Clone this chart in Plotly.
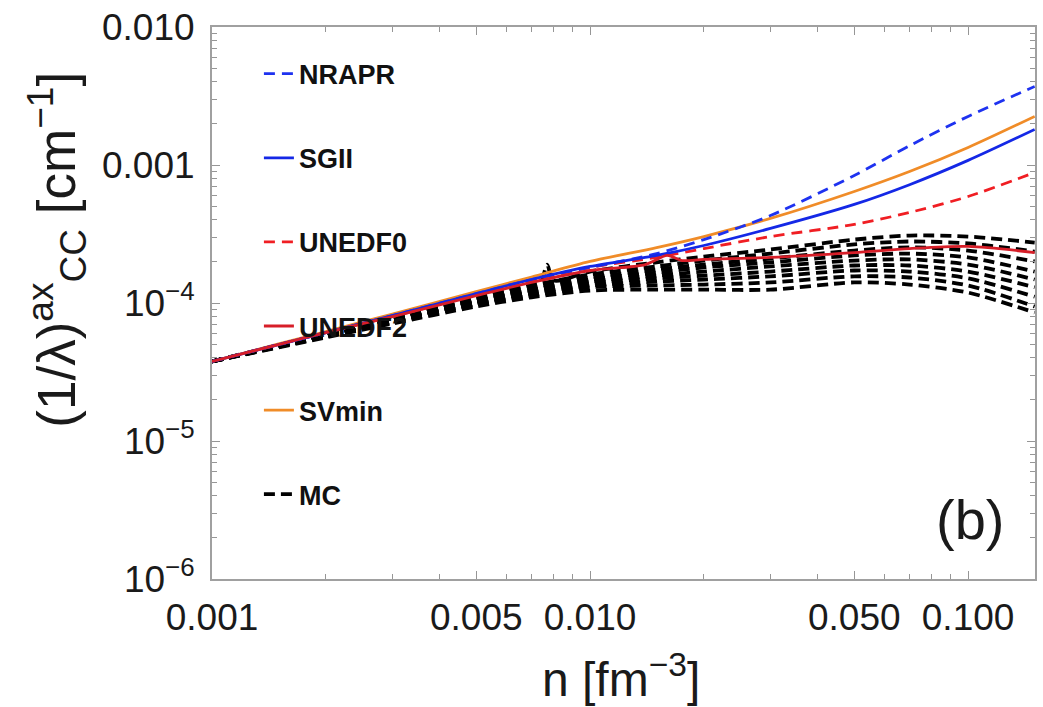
import plotly.graph_objects as go

# ---------------- data ----------------
n_grid = [0.001, 0.0015, 0.002, 0.003, 0.005, 0.007, 0.01, 0.015, 0.02, 0.03, 0.05, 0.07, 0.1, 0.15]

nrapr = [3.77e-5, 5.00e-5, 6.11e-5, 8.11e-5, 1.17e-4, 1.48e-4, 1.81e-4, 2.28e-4, 2.88e-4, 4.30e-4, 8.40e-4, 1.38e-3, 2.25e-3, 3.71e-3]
sgii = [3.77e-5, 5.00e-5, 6.11e-5, 8.11e-5, 1.17e-4, 1.48e-4, 1.84e-4, 2.21e-4, 2.61e-4, 3.47e-4, 5.18e-4, 7.20e-4, 1.08e-3, 1.81e-3]
unedf0 = [3.77e-5, 5.00e-5, 6.11e-5, 7.98e-5, 1.15e-4, 1.46e-4, 1.81e-4, 2.14e-4, 2.48e-4, 3.03e-4, 3.71e-4, 4.53e-4, 5.91e-4, 8.83e-4]
svmin = [3.77e-5, 5.05e-5, 6.21e-5, 8.31e-5, 1.21e-4, 1.54e-4, 2.00e-4, 2.52e-4, 3.03e-4, 4.10e-4, 6.43e-4, 8.97e-4, 1.34e-3, 2.25e-3]

n_unedf2 = [0.001, 0.0015, 0.002, 0.003, 0.005, 0.007, 0.01, 0.014, 0.016, 0.0175, 0.02, 0.03, 0.05, 0.07, 0.1, 0.15]
unedf2 = [3.77e-5, 5.00e-5, 6.11e-5, 7.98e-5, 1.13e-4, 1.41e-4, 1.72e-4, 1.90e-4, 2.21e-4, 2.03e-4, 2.07e-4, 2.14e-4, 2.32e-4, 2.48e-4, 2.57e-4, 2.32e-4]

n_mc = [0.001, 0.002, 0.003, 0.005, 0.007, 0.01, 0.015, 0.02, 0.03, 0.05, 0.07, 0.1, 0.15]
n_mc_glitch = [0.001, 0.002, 0.003, 0.005, 0.007, 0.0074, 0.0077, 0.008, 0.01, 0.015, 0.02, 0.03, 0.05, 0.07, 0.1, 0.15]
mc1 = [3.77e-5, 6.01e-5, 7.98e-5, 1.11e-4, 1.39e-4, 1.41e-4, 1.90e-4, 1.46e-4, 1.69e-4, 1.97e-4, 2.17e-4, 2.44e-4, 2.88e-4, 3.08e-4, 3.03e-4, 2.74e-4]
mc2 = [3.77e-5, 6.01e-5, 7.85e-5, 1.10e-4, 1.34e-4, 1.61e-4, 1.84e-4, 2.03e-4, 2.28e-4, 2.66e-4, 2.79e-4, 2.70e-4, 2.36e-4]
mc3 = [3.77e-5, 5.91e-5, 7.72e-5, 1.06e-4, 1.30e-4, 1.53e-4, 1.75e-4, 1.90e-4, 2.10e-4, 2.40e-4, 2.53e-4, 2.40e-4, 2.00e-4]
mc4 = [3.77e-5, 5.91e-5, 7.59e-5, 1.04e-4, 1.25e-4, 1.48e-4, 1.66e-4, 1.81e-4, 1.97e-4, 2.21e-4, 2.28e-4, 2.14e-4, 1.69e-4]
mc5 = [3.77e-5, 5.82e-5, 7.47e-5, 1.03e-4, 1.23e-4, 1.43e-4, 1.58e-4, 1.69e-4, 1.84e-4, 2.03e-4, 2.07e-4, 1.90e-4, 1.48e-4]
mc6 = [3.77e-5, 5.82e-5, 7.47e-5, 1.01e-4, 1.19e-4, 1.39e-4, 1.51e-4, 1.58e-4, 1.69e-4, 1.87e-4, 1.87e-4, 1.69e-4, 1.30e-4]
mc7 = [3.77e-5, 5.72e-5, 7.34e-5, 9.92e-5, 1.17e-4, 1.34e-4, 1.43e-4, 1.48e-4, 1.56e-4, 1.72e-4, 1.69e-4, 1.51e-4, 1.11e-4]
mc8 = [3.77e-5, 5.72e-5, 7.22e-5, 9.75e-5, 1.13e-4, 1.30e-4, 1.34e-4, 1.36e-4, 1.41e-4, 1.56e-4, 1.53e-4, 1.34e-4, 9.43e-5]
mc9 = [3.77e-5, 5.62e-5, 7.10e-5, 9.43e-5, 1.10e-4, 1.23e-4, 1.25e-4, 1.25e-4, 1.25e-4, 1.41e-4, 1.36e-4, 1.19e-4, 8.53e-5]

x_major = [0.001, 0.005, 0.01, 0.05, 0.1]
x_major_text = ["0.001", "0.005", "0.010", "0.050", "0.100"]
x_minor = [0.002, 0.003, 0.004, 0.006, 0.007, 0.008, 0.009, 0.02, 0.03, 0.04, 0.06, 0.07, 0.08, 0.09]
y_major = [1e-6, 1e-5, 1e-4, 1e-3, 1e-2]
y_major_text = ["10<sup>−6</sup>", "10<sup>−5</sup>", "10<sup>−4</sup>", "0.001", "0.010"]
y_minor = [m * d for d in (1e-6, 1e-5, 1e-4, 1e-3) for m in range(2, 10)]

# ---------------- figure ----------------
fig = go.Figure()

mc_sets = [(n_mc_glitch, mc1), (n_mc, mc2), (n_mc, mc3), (n_mc, mc4), (n_mc, mc5),
           (n_mc, mc6), (n_mc, mc7), (n_mc, mc8), (n_mc, mc9)]
for i, (xs, ys) in enumerate(mc_sets):
    fig.add_trace(go.Scatter(
        x=xs, y=ys, mode="lines", name="MC", legendgroup="MC", legendrank=6,
        showlegend=(i == 0),
        line=dict(color="black", width=3.8, dash="11px,6px", shape="spline", smoothing=0.8)))

styles = [
    ("SVmin", n_grid, svmin, "rgb(240,140,40)", "solid", 5),
    ("UNEDF0", n_grid, unedf0, "rgb(240,30,35)", "11px,7px", 3),
    ("NRAPR", n_grid, nrapr, "rgb(30,50,240)", "11px,7px", 1),
    ("SGII", n_grid, sgii, "rgb(20,40,230)", "solid", 2),
    ("UNEDF2", n_unedf2, unedf2, "rgb(215,30,40)", "solid", 4),
]
for name, xs, ys, col, dash, rank in styles:
    fig.add_trace(go.Scatter(
        x=xs, y=ys, mode="lines", name=name, legendgroup=name, legendrank=rank,
        line=dict(color=col, width=2.8, dash=dash, shape="spline", smoothing=0.8)))

axis_common = dict(
    type="log", showgrid=False, zeroline=False,
    showline=True, linecolor="rgb(160,160,160)", linewidth=2, mirror="ticks",
    ticks="inside", ticklen=8, tickwidth=1, tickcolor="rgb(150,150,150)",
    tickfont=dict(family="Liberation Sans, Arial, sans-serif", size=37, color="#1a1a1a"),
    tickmode="array",
)

fig.update_xaxes(
    **axis_common, range=[-3, -0.823],
    tickvals=x_major, ticktext=x_major_text, ticklabelstandoff=5,
    minor=dict(tickmode="array", tickvals=x_minor, ticks="inside", ticklen=5,
               tickcolor="rgb(150,150,150)", showgrid=False),
)
fig.update_yaxes(
    **axis_common, range=[-6, -2],
    tickvals=y_major, ticktext=y_major_text, ticklabelstandoff=8,
    minor=dict(tickmode="array", tickvals=y_minor, ticks="inside", ticklen=5,
               tickcolor="rgb(150,150,150)", showgrid=False),
)

fig.update_layout(
    width=1043, height=707, autosize=False,
    margin=dict(l=212, r=6, t=27, b=128),
    paper_bgcolor="white", plot_bgcolor="white",
    font=dict(family="Liberation Sans, Arial, sans-serif", color="black"),
    legend=dict(
        x=0.057, y=0.959, xanchor="left", yanchor="top",
        bgcolor="rgba(0,0,0,0)", traceorder="grouped", tracegroupgap=46,
        font=dict(family="Liberation Sans, Arial, sans-serif", size=27, color="#111", weight="bold"),
    ),
    annotations=[
        dict(text="n [fm<sup>−3</sup>]", xref="paper", yref="paper", x=0.497, y=-0.175,
             xanchor="center", yanchor="middle", showarrow=False,
             font=dict(size=48, color="#1a1a1a")),
        dict(text="(1/λ)<sup>ax</sup><sub>CC</sub> [cm<sup>−1</sup>]", xref="paper", yref="paper",
             x=-0.19, y=0.596, xanchor="center", yanchor="middle", textangle=-90, showarrow=False,
             font=dict(size=53, color="#1a1a1a")),
        dict(text="(b)", xref="paper", yref="paper", x=0.921, y=0.108,
             xanchor="center", yanchor="middle", showarrow=False,
             font=dict(size=56, color="#1a1a1a")),
    ],
)

fig.write_html("out.html")
